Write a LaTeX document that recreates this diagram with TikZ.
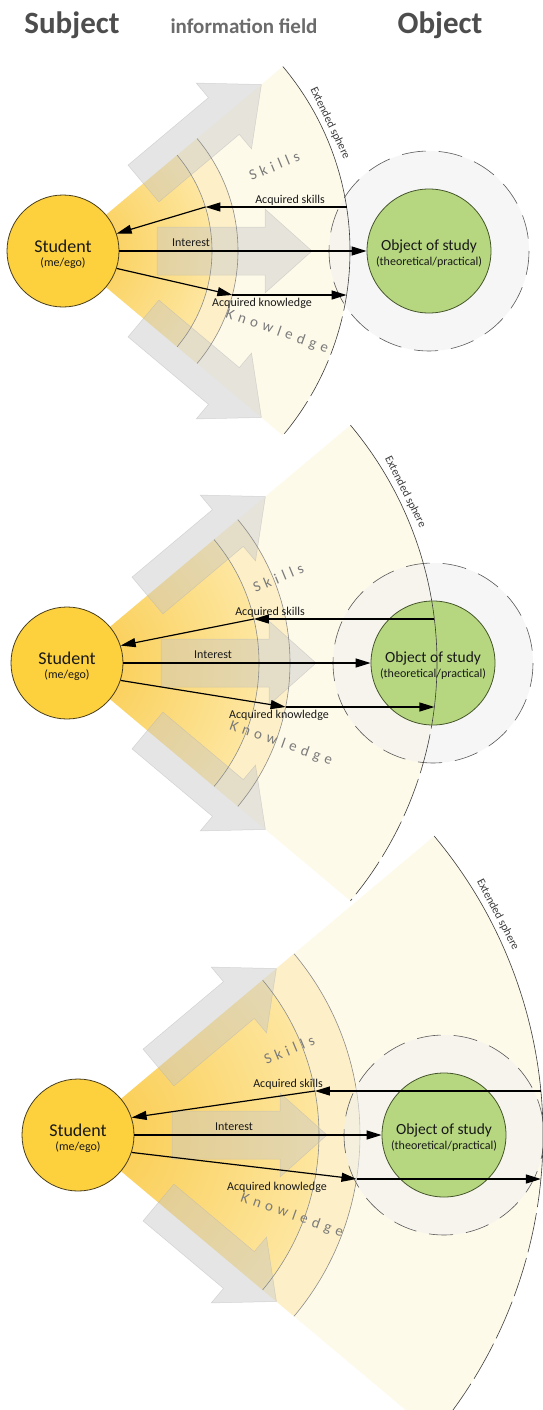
\documentclass[tikz,border=0pt]{standalone}
\usepackage{fontspec}
\setmainfont{Carlito}
\usetikzlibrary{arrows.meta,calc}
\definecolor{titc}{HTML}{4D4D4D}
\definecolor{infc}{HTML}{6B6B6B}
\definecolor{stuf}{HTML}{FDD03E}
\definecolor{stud}{HTML}{4A3F1C}
\definecolor{objf}{HTML}{B6D780}
\definecolor{objd}{HTML}{45552A}
\definecolor{fanIn}{HTML}{FAC945}
\definecolor{fanOut}{HTML}{FDE6A0}
\definecolor{fanB}{HTML}{FDF0C8}
\definecolor{fanC}{HTML}{FEFAEA}
\definecolor{arcc}{HTML}{8C8C8C}
\definecolor{extc}{HTML}{3C3C3C}
\definecolor{skc}{HTML}{7A7A7A}
\newcommand\trA{\kern4.7pt\relax}
\newcommand\trB{\kern5pt\relax}
\tikzset{
 stucirc/.style={circle, fill=stuf, draw=stud, line width=.8pt, minimum size=112pt, inner sep=0pt},
 objcirc/.style={circle, fill=objf, draw=objd, line width=.8pt, minimum size=124pt, inner sep=0pt},
 garr/.style={fill=black!22, fill opacity=.45, draw=black!30, draw opacity=.45, line width=.5pt},
 arcl/.style={draw=arcc, line width=.6pt},
 extl/.style={draw=extc, line width=.6pt},
 dcirc/.style={draw=black!65, line width=.6pt, dash pattern=on 24pt off 13pt},
 gfill/.style={fill=black!6, fill opacity=.55},
 barr/.style={draw=black, line width=1.2pt, -{Triangle[length=15pt,width=9pt]}},
 lab/.style={font=\fontsize{12}{12}\selectfont, text=black!90, inner sep=0pt, anchor=base},
 lett/.style={font=\fontsize{15}{15}\selectfont, text=skc, inner sep=0pt, anchor=base},
 extt/.style={font=\fontsize{11.5}{12}\selectfont, text=extc, inner sep=0pt, anchor=base},
 inner1/.style={font=\fontsize{18}{18}\selectfont, text=black!90, inner sep=0pt, anchor=base},
 inner2/.style={font=\fontsize{12}{12}\selectfont, text=black!90, inner sep=0pt, anchor=base},
 inner3/.style={font=\fontsize{15.5}{15.5}\selectfont, text=black!90, inner sep=0pt, anchor=base},
 ttl/.style={font=\bfseries\fontsize{31}{31}\selectfont, text=titc, inner sep=0pt, anchor=base},
}
\begin{document}
\begin{tikzpicture}[x=1pt,y=-1pt]
\fill[white] (0,0) rectangle (543,1410);
\useasboundingbox (0,0) rectangle (543,1410);
\clip (0,0) rectangle (543,1410);

\node[ttl] (tsub) at (72,34) {Subject};
\node[ttl, font=\bfseries\fontsize{21}{21}\selectfont, text=infc] (tinf) at (244,34) {information field};
\node[ttl] (tobj) at (440,34) {Object};

\foreach \p/\sx/\sy/\RA/\RB/\RE/\xa/\xb/\xe/\lsk/\lin/\lkn/\eang in {
 1/63/251/149/175/287/205.4/232.4/346.6/290/191/262/-25.6,
 2/67/663/192/223/370/253.9/285.6/434.4/270/213/279/-26.8,
 3/78/1135/241/282/465/314.9/356.5/540.9/288/234/277/-27.7}{
 \coordinate (S\p) at (\sx,\sy);
 \coordinate (O\p) at (\sx+366,\sy);
 % information field (fan)
 \begin{scope}
  \clip (S\p) -- ++(-40:\RE) arc[start angle=-40,end angle=40,radius=\RE] -- cycle;
  \fill[fanC] (S\p) circle[radius=\RE];
  \fill[fanB] (S\p) circle[radius=\RB];
  \shade[inner color=fanIn, outer color=fanOut] (S\p) circle[radius=\RA];
 \end{scope}
 % big grey arrows
 \begin{scope}[shift={(S\p)}]
  \path[garr] (94,-24) -- (202,-24) -- (202,-42) -- (249,0) -- (202,42) -- (202,24) -- (94,24) -- cycle;
  \path[garr, rotate=40] (105,-24) -- (210,-24) -- (210,-43) -- (259,0) -- (210,43) -- (210,24) -- (105,24) -- cycle;
  \path[garr, rotate=-40] (105,-24) -- (210,-24) -- (210,-43) -- (259,0) -- (210,43) -- (210,24) -- (105,24) -- cycle;
 \end{scope}
 % arcs
 \draw[arcl] (S\p) ++(-40:\RA) arc[start angle=-40,end angle=40,radius=\RA];
 \draw[arcl] (S\p) ++(-40:\RB) arc[start angle=-40,end angle=40,radius=\RB];
 % object sphere
 \fill[gfill] (O\p) circle[radius=100];
 \draw[dcirc] (O\p) circle[radius=100];
 \node[stucirc] (stu\p) at (S\p) {};
 \node[objcirc] (obj\p) at (O\p) {};
 % extended sphere
 \draw[extl] (S\p) ++(-40:\RE) arc[start angle=-40,end angle=4,radius=\RE];
 \draw[extl, dash pattern=on 40pt off 6pt] (S\p) ++(4:\RE) arc[start angle=4,end angle=40,radius=\RE];
 \node[extt, rotate={-(\eang+90)}] (ext\p) at ($(S\p)+(\eang:{\RE+6})$) {Extended sphere};
 % connectors
 \coordinate (SKe\p) at (\xe,\sy-44);
 \coordinate (SKa\p) at (\xa,\sy-44);
 \coordinate (KNb\p) at (\xb,\sy+44);
 \coordinate (KNe\p) at (\xe,\sy+44);
 \draw[barr] (SKe\p) -- (SKa\p);
 \draw[barr] (SKa\p) -- (stu\p.18);
 \draw[barr] (stu\p.-18) -- (KNb\p);
 \draw[barr] (KNb\p) -- (KNe\p);
 \draw[barr] (stu\p.east) -- (obj\p.west);
 % labels
 \node[lab] (lsk\p) at (\lsk,\sy-48) {Acquired skills};
 \node[lab] (lin\p) at (\lin,\sy-4.5) {Interest};
 \node[lab] (lkn\p) at (\lkn,\sy+55.5) {Acquired knowledge};
 \node[inner1] (stut\p) at (\sx,\sy+1) {Student};
 \node[inner2] (stus\p) at (\sx,\sy+15) {(me/ego)};
 \node[inner3] (objt\p) at (\sx+366,\sy-1) {Object of study};
 \node[inner2] (objs\p) at (\sx+366,\sy+14) {(theoretical/practical)};
 % field words
 \node[lett, rotate=22.5] (skw\p) at ($(S\p)+(213.2,-80.3)$) {S\trA k\trA i\trA l\trA l\trA s};
 \node[lett, rotate=-19.5] (knw\p) at ($(S\p)+(212.7,84)$) {K\trB n\trB o\trB w\trB l\trB e\trB d\trB g\trB e};
}
\end{tikzpicture}
\end{document}
